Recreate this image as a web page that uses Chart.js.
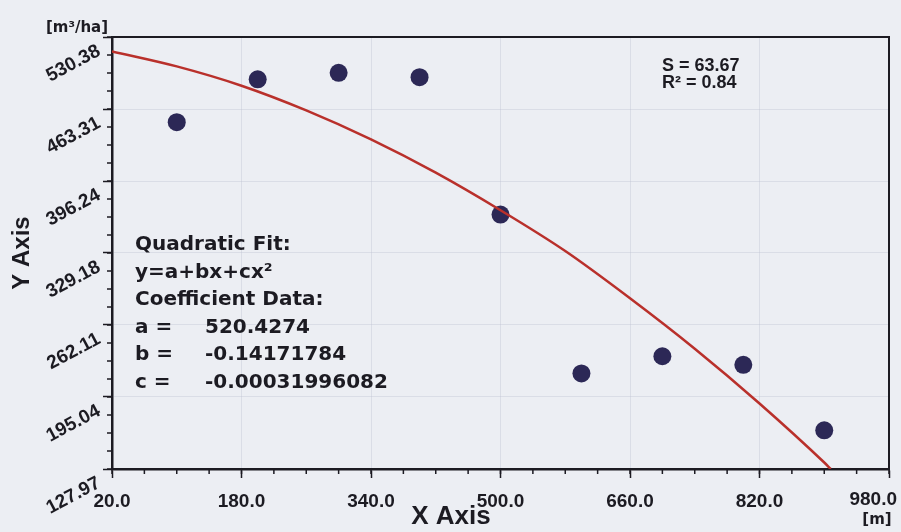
<!DOCTYPE html>
<html lang="en">
<head>
<meta charset="UTF-8">
<title>Quadratic Fit</title>
<script src="https://cdn.jsdelivr.net/npm/chart.js"></script>
<style>
    html, body { margin: 0; padding: 0; background: #eceef3; }
    #chart-container { width: 901px; height: 532px; }
</style>
</head>
<body>
<div id="chart-container">
    <canvas id="fitChart" width="901" height="532"></canvas>
</div>
<script>
// measured points
const pointsX = [100, 200, 300, 400, 500, 600, 700, 800, 900];
const pointsY = [451, 491, 497, 493, 365, 217, 233, 225, 164];

// fitted curve
const curveX = [20, 100, 180, 260, 340, 420, 500, 580, 660, 740, 820, 900, 908];
const curveY = [517, 503, 485, 462, 435, 404, 369, 331, 287, 240, 189, 134, 128];

const xTicks = [20, 180, 340, 500, 660, 820, 980];
const xTickLabels = ['20.0', '180.0', '340.0', '500.0', '660.0', '820.0', '980.0'];
const yTicks = [127.97, 195.04, 262.11, 329.18, 396.24, 463.31, 530.38];
const yTickLabels = ['127.97', '195.04', '262.11', '329.18', '396.24', '463.31', '530.38'];

const fitLabels = ['Quadratic Fit:', 'y=a+bx+cx²', 'Coefficient Data:', 'a =', 'b =', 'c ='];
const fitValues = ['', '', '', '520.4274', '-0.14171784', '-0.00031996082'];
const statLines = ['S = 63.67', 'R² = 0.84'];

const INK = '#1c1b22';
const TICK_FONT = 'bold 19px "Liberation Sans"';

const decorations = {
    id: 'decorations',
    beforeDraw(chart) {
        const ctx = chart.ctx;
        ctx.save();
        ctx.fillStyle = '#eceef3';
        ctx.fillRect(0, 0, chart.width, chart.height);
        ctx.restore();
    },
    afterDraw(chart) {
        const ctx = chart.ctx;
        const a = chart.chartArea;
        const x = chart.scales.x, y = chart.scales.y;
        ctx.save();

        // top / right frame
        ctx.strokeStyle = INK;
        ctx.lineWidth = 2;
        ctx.beginPath();
        ctx.moveTo(a.left, a.top);
        ctx.lineTo(a.right, a.top);
        ctx.lineTo(a.right, a.bottom);
        ctx.stroke();

        // minor ticks
        ctx.lineWidth = 1.5;
        ctx.beginPath();
        for (let v = xTicks[0]; v <= xTicks[xTicks.length - 1]; v += 40) {
            const px = x.getPixelForValue(v);
            ctx.moveTo(px, a.bottom);
            ctx.lineTo(px, a.bottom + 5);
        }
        const yStep = (yTicks[1] - yTicks[0]) / 4;
        for (let i = 0; i <= 24; i++) {
            const py = y.getPixelForValue(yTicks[0] + i * yStep);
            ctx.moveTo(a.left, py);
            ctx.lineTo(a.left - 5, py);
        }
        ctx.stroke();

        ctx.fillStyle = INK;
        ctx.font = TICK_FONT;

        // last x label would run off the canvas, keep it inside
        const last = xTicks.length - 1;
        ctx.textAlign = 'right';
        ctx.textBaseline = 'top';
        ctx.fillText(xTickLabels[last], Math.min(x.getPixelForValue(xTicks[last]) + 24, chart.width - 4), a.bottom + 21);

        // slanted y labels
        ctx.textBaseline = 'middle';
        yTicks.forEach((v, i) => {
            const py = y.getPixelForValue(v);
            ctx.save();
            ctx.translate(a.left - 13, py + 13);
            ctx.rotate(-28 * Math.PI / 180);
            ctx.fillText(yTickLabels[i], 0, 0);
            ctx.restore();
        });

        // units
        ctx.font = 'bold 15px "DejaVu Sans"';
        ctx.textAlign = 'center';
        ctx.fillText('[m³/ha]', 77, 28);
        ctx.fillText('[m]', 877, 520);

        // x title
        ctx.font = 'bold 26px "Liberation Sans"';
        ctx.fillText('X Axis', 451, 517);

        // stats box
        ctx.font = 'bold 18px "Liberation Sans"';
        ctx.textAlign = 'left';
        ctx.textBaseline = 'alphabetic';
        statLines.forEach((s, i) => ctx.fillText(s, 662, 71 + i * 17));

        // coefficient block
        ctx.font = 'bold 20px "DejaVu Sans"';
        fitLabels.forEach((s, i) => {
            const by = 250 + i * 27.5;
            ctx.fillText(s, 135, by);
            if (fitValues[i]) ctx.fillText(fitValues[i], 205, by);
        });

        ctx.restore();
    }
};

const ctx = document.getElementById('fitChart').getContext('2d');
new Chart(ctx, {
    type: 'scatter',
    data: {
        datasets: [
            {
                type: 'line',
                label: 'Quadratic fit',
                data: curveX.map((v, i) => ({ x: v, y: curveY[i] })),
                borderColor: '#b9302b',
                borderWidth: 2.5,
                pointRadius: 0,
                cubicInterpolationMode: 'monotone',
                fill: false,
                order: 0
            },
            {
                label: 'Data',
                data: pointsX.map((v, i) => ({ x: v, y: pointsY[i] })),
                backgroundColor: '#2c2856',
                borderWidth: 0,
                pointRadius: 9,
                order: 1
            }
        ]
    },
    options: {
        responsive: false,
        animation: false,
        devicePixelRatio: 1,
        layout: { padding: { top: 37, right: 12, left: 0, bottom: 0 } },
        plugins: {
            legend: { display: false },
            tooltip: { enabled: false }
        },
        scales: {
            x: {
                type: 'linear',
                min: 20,
                max: 980,
                afterBuildTicks: s => { s.ticks = xTicks.map(v => ({ value: v })); },
                afterFit: s => {
                    s.height = 63;
                    s.paddingLeft = 0;
                    s.paddingRight = 0;
                },
                ticks: {
                    // last label is drawn by the plugin
                    callback: v => (v === xTicks[xTicks.length - 1] ? '' : xTickLabels[xTicks.indexOf(v)]),
                    font: { family: 'Liberation Sans', size: 19, weight: 'bold' },
                    color: INK,
                    padding: 12,
                    maxRotation: 0,
                    autoSkip: false
                },
                grid: {
                    color: 'rgba(185, 190, 205, 0.35)',
                    tickLength: 9,
                    tickColor: INK,
                    tickWidth: 1.5
                },
                border: { color: INK, width: 2.5 }
            },
            y: {
                type: 'linear',
                min: 127.97,
                max: 530.38,
                afterBuildTicks: s => { s.ticks = yTicks.map(v => ({ value: v })); },
                afterFit: s => {
                    s.width = 112;
                    s.paddingTop = 0;
                    s.paddingBottom = 0;
                },
                ticks: { display: false },
                grid: {
                    color: 'rgba(185, 190, 205, 0.35)',
                    tickLength: 9,
                    tickColor: INK,
                    tickWidth: 1.5
                },
                border: { color: INK, width: 2.5 },
                title: {
                    display: true,
                    text: 'Y Axis',
                    color: INK,
                    font: { family: 'Liberation Sans', size: 24, weight: 'bold' },
                    padding: { top: 8, bottom: 0 }
                }
            }
        }
    },
    plugins: [decorations]
});
</script>
</body>
</html>
